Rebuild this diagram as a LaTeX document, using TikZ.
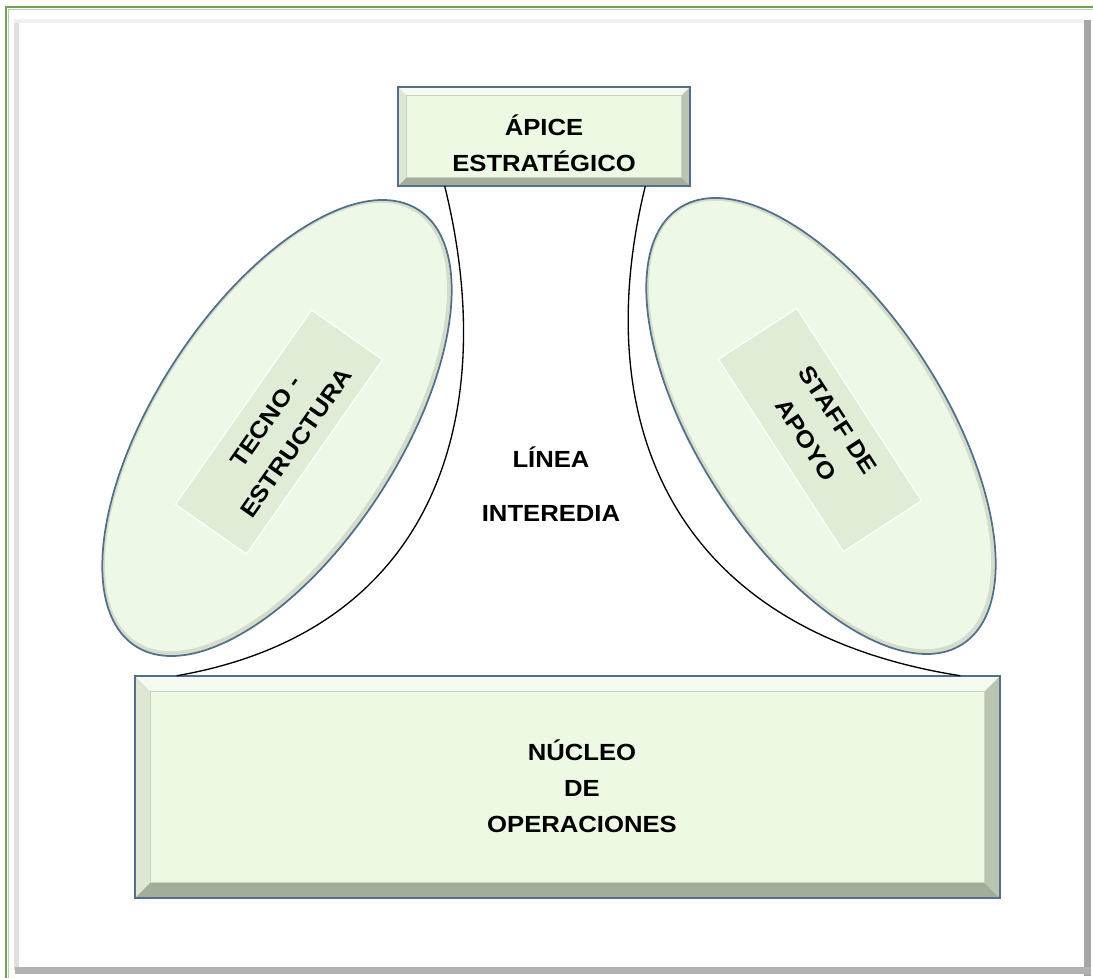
\documentclass[tikz,border=0pt]{standalone}
\usepackage{fontspec}
\setmainfont{Liberation Sans}[FakeStretch=1.1]
\usetikzlibrary{shapes.geometric,calc}
\definecolor{faceg}{HTML}{EEF9E4}
\definecolor{bordb}{HTML}{4F6F8C}
\definecolor{bvlight}{HTML}{F6FBF1}
\definecolor{bvmid}{HTML}{DCE6D2}
\definecolor{bvdark}{HTML}{A3AE9A}
\definecolor{bvdark2}{HTML}{BAC4B0}
\definecolor{rectg}{HTML}{E1ECD7}
\definecolor{ellrim}{HTML}{D3DDCA}
\definecolor{ellface}{HTML}{EEF8E7}
\definecolor{framegreen}{HTML}{6FA552}
\tikzset{
  lab/.style={font=\bfseries\fontsize{17.5}{27}\selectfont, text=black, align=center, inner sep=0pt},
  rotlab/.style={font=\bfseries\fontsize{17.5}{28}\selectfont, text=black, align=center, inner sep=0pt},
  boxframe/.style={rectangle, inner sep=0pt, draw=none},
  ellout/.style={ellipse, inner sep=0pt, fill=ellrim, draw=bordb, line width=1.3pt},
  ellin/.style={ellipse, inner sep=0pt, fill=ellface, draw=none},
  tagbox/.style={rectangle, inner sep=0pt, fill=rectg, draw=white, line width=0.9pt},
  link/.style={draw=black, line width=1pt},
}
\newcommand\bevelize[2]{%
 \fill[bvlight] (#1.north west) -- (#1.north east) -- ($(#1.north east)+(-#2,#2)$) -- ($(#1.north west)+(#2,#2)$) -- cycle;
 \fill[bvmid] (#1.north west) -- ($(#1.north west)+(#2,#2)$) -- ($(#1.south west)+(#2,-#2)$) -- (#1.south west) -- cycle;
 \fill[bvdark] (#1.south west) -- ($(#1.south west)+(#2,-#2)$) -- ($(#1.south east)+(-#2,-#2)$) -- (#1.south east) -- cycle;
 \fill[bvdark2] (#1.north east) -- (#1.south east) -- ($(#1.south east)+(-#2,-#2)$) -- ($(#1.north east)+(-#2,#2)$) -- cycle;
 \draw[fill=faceg, draw=bvmid!80!gray, line width=0.5pt] ($(#1.north west)+(#2,#2)$) rectangle ($(#1.south east)+(-#2,-#2)$);
 \draw[bordb, line width=1.3pt] (#1.north west) rectangle (#1.south east);
}
\begin{document}
\begin{tikzpicture}[x=0.75pt,y=-0.75pt]
\useasboundingbox (0,0) rectangle (1093,978);
\fill[white] (0,0) rectangle (1093,978);
% outer frame
\fill[gray!25] (14,20) rectangle (19,970);
\fill[gray!12] (14,19) rectangle (1085,23);
\fill[gray!70] (1084,20) rectangle (1091,976);
\fill[gray!60] (15,967) rectangle (1091,974);
\draw[framegreen, line width=1.6pt] (6,978) -- (6,7) -- (1093,7);
\draw[framegreen!50, line width=0.6pt] (8.5,978) -- (8.5,9.5) -- (1093,9.5);

% boxes
\node[boxframe, minimum width=219pt, minimum height=74.25pt] (apexbox) at (544,136.5) {};
\bevelize{apexbox}{9}
\node[boxframe, minimum width=648.75pt, minimum height=166.5pt] (corebox) at (567.5,787) {};
\bevelize{corebox}{16}

% ellipses
\node[ellout, minimum width=390pt, minimum height=183pt, rotate=57] (techell) at (277,428) {};
\node[ellin, minimum width=384pt, minimum height=177pt, rotate=57] (techin) at (276,427) {};
\node[ellout, minimum width=390pt, minimum height=183pt, rotate=-57] (staffell) at (821,426) {};
\node[ellin, minimum width=384pt, minimum height=177pt, rotate=-57] (staffin) at (820,425) {};

% inner tag boxes
\node[tagbox, minimum width=178pt, minimum height=65pt, rotate=55] (techtag) at (279,432) {};
\node[tagbox, minimum width=172pt, minimum height=70pt, rotate=-57] (stafftag) at (820,430) {};

% texts
\node[lab] (apex) at (544,143) {ÁPICE\\ESTRATÉGICO};
\node[lab] (core) at (582,786) {NÚCLEO\\DE\\OPERACIONES};
\node[lab, font=\bfseries\fontsize{17.5}{40}\selectfont] (mid) at (551,484) {LÍNEA\\INTEREDIA};
\node[rotlab, rotate=55] (tech) at (281,432) {TECNO -\\ESTRUCTURA};
\node[rotlab, rotate=-57] (staff) at (822,430) {STAFF DE\\APOYO};

% connecting curves
\coordinate (lA) at ($(apexbox.south west)+(47,0)$);
\coordinate (lB) at ($(corebox.north west)+(42,0)$);
\coordinate (rA) at ($(apexbox.south east)+(-45,0)$);
\coordinate (rB) at ($(corebox.north east)+(-40,0)$);
\draw[link] (lA) .. controls (500,410) and (440,630) .. (lB);
\draw[link] (rA) .. controls (588,420) and (670,630) .. (rB);
\end{tikzpicture}
\end{document}
